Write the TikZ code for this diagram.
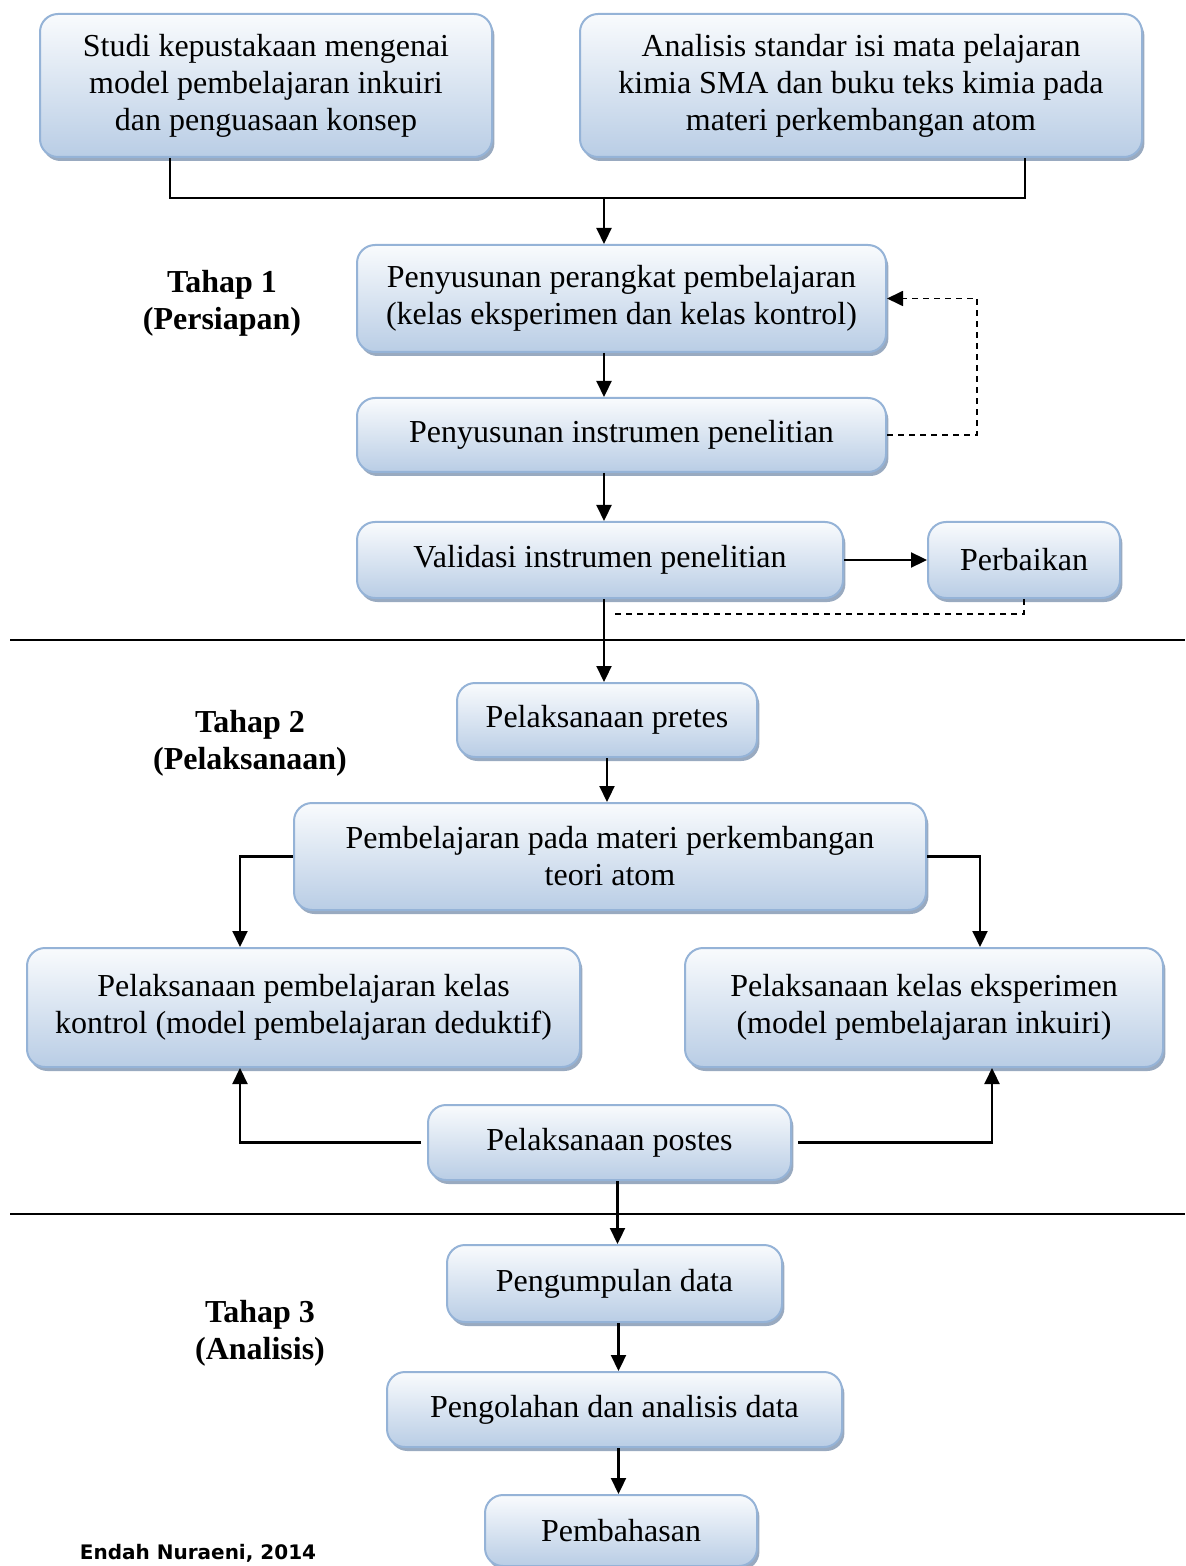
\documentclass[tikz,border=0pt]{standalone}
\usepackage{fontspec}
\setmainfont{Liberation Serif}
\newfontfamily\creditfont{DejaVu Sans}
\usetikzlibrary{positioning, shadows, arrows.meta}
\definecolor{boxline}{HTML}{95B3D7}
\definecolor{boxtop}{HTML}{F9FBFD}
\definecolor{boxbot}{HTML}{B9CDE5}
\definecolor{boxshade}{HTML}{8095B0}

\begin{document}
\begin{tikzpicture}[x=0.5pt, y=-0.5pt]
\tikzstyle{main}=[rectangle, rounded corners=9pt, draw=boxline, line width=1pt, top color=boxtop, bottom color=boxbot, align=center, inner sep=0pt, font=\fontsize{16}{18.5}\selectfont, drop shadow={shadow xshift=1.2pt, shadow yshift=-2pt, fill=boxshade, opacity=0.8}]
\tikzstyle{connect}=[draw, -{Triangle[length=8pt, width=7.5pt]}, line width=1.1pt]
\tikzstyle{plain}=[draw, line width=1.1pt]
\tikzstyle{back}=[draw, dash pattern=on 3pt off 2.5pt, line width=0.9pt]
\tikzstyle{stage}=[align=center, font=\fontsize{16}{18.5}\selectfont\bfseries]
\useasboundingbox (0,0) rectangle (1185,1566);
% tahap 1
\node[main, minimum width=226pt, minimum height=71.5pt] (studi) at (266,85.5) {Studi kepustakaan mengenai\\model pembelajaran inkuiri\\dan penguasaan konsep};
\node[main, minimum width=281pt, minimum height=71.5pt] (analisis) at (861,85.5) {Analisis standar isi mata pelajaran\\kimia SMA dan buku teks kimia pada\\materi perkembangan atom};
\node[main, minimum width=264.5pt, minimum height=53.5pt] (perangkat) at (621.5,298.5) {Penyusunan perangkat pembelajaran\\(kelas eksperimen dan kelas kontrol)};
\node[main, minimum width=264.5pt, minimum height=37pt] (instrumen) at (621.5,435) {Penyusunan instrumen penelitian};
\node[main, minimum width=243pt, minimum height=38pt] (validasi) at (600,560) {Validasi instrumen penelitian};
\node[main, minimum width=96pt, minimum height=38pt] (perbaikan) at (1024,560) {Perbaikan};
\node[stage] (tahap1) at (222,303) {Tahap 1\\(Persiapan)};
% tahap 2
\node[main, minimum width=150pt, minimum height=37pt] (pretes) at (607,720) {Pelaksanaan pretes};
\node[main, minimum width=316pt, minimum height=53.5pt] (materi) at (610,856.5) {Pembelajaran pada materi perkembangan\\teori atom};
\node[main, minimum width=276.5pt, minimum height=59.5pt] (kontrol) at (303.5,1007.5) {Pelaksanaan pembelajaran kelas\\kontrol (model pembelajaran deduktif)};
\node[main, minimum width=239pt, minimum height=59.5pt] (eksperimen) at (924,1007.5) {Pelaksanaan kelas eksperimen\\(model pembelajaran inkuiri)};
\node[main, minimum width=181.5pt, minimum height=37.5pt] (postes) at (609.5,1142.5) {Pelaksanaan postes};
\node[stage] (tahap2) at (250,743) {Tahap 2\\(Pelaksanaan)};
% tahap 3
\node[main, minimum width=167.5pt, minimum height=38.5pt] (data) at (614.5,1283.5) {Pengumpulan data};
\node[main, minimum width=227.5pt, minimum height=37.5pt] (olah) at (614.5,1409.5) {Pengolahan dan analisis data};
\node[main, minimum width=136pt, minimum height=35.5pt] (bahas) at (621,1530.5) {Pembahasan};
\node[stage] (tahap3) at (260,1333) {Tahap 3\\(Analisis)};
\node[font=\creditfont\bfseries\fontsize{10}{12}\selectfont] (credit) at (198,1553) {Endah Nuraeni, 2014};
% separators
\draw[line width=1pt] (10,640) -- (1185,640);
\draw[line width=1pt] (10,1214) -- (1185,1214);
% connectors
\coordinate (gabung) at (604,197);
\coordinate (balik) at (612,614);
\path[plain] ([xshift=-48pt]studi.south) -- ++(0,40) -| ([xshift=82pt]analisis.south);
\path[connect] (gabung) -- (gabung |- perangkat.north);
\path[connect] (perangkat.south -| gabung) -- (instrumen.north -| gabung);
\path[connect] (instrumen.south -| gabung) -- (validasi.north -| gabung);
\path[back, -{Triangle[length=8pt, width=7.5pt]}] (instrumen.east) -- ++(90,0) |- (perangkat.east);
\path[connect] (validasi.east) -- (perbaikan.west);
\path[back] (perbaikan.south) |- (balik);
\path[connect] (validasi.south -| gabung) -- (pretes.north -| gabung);
\path[connect] (pretes.south) -- (pretes.south |- materi.north);
\path[connect] (materi.west) -| ([xshift=-31.75pt]kontrol.north);
\path[connect] (materi.east) -| ([xshift=28pt]eksperimen.north);
\path[connect] ([xshift=-3pt]postes.west) -| ([xshift=-31.75pt]kontrol.south);
\path[connect] ([xshift=3pt]postes.east) -| ([xshift=34pt]eksperimen.south);
\path[connect] ([xshift=4pt]postes.south) -- ([xshift=4pt]postes.south |- data.north);
\path[connect] ([xshift=2pt]data.south) -- ([xshift=2pt]data.south |- olah.north);
\path[connect] ([xshift=2pt]olah.south) -- ([xshift=2pt]olah.south |- bahas.north);
\end{tikzpicture}
\end{document}
